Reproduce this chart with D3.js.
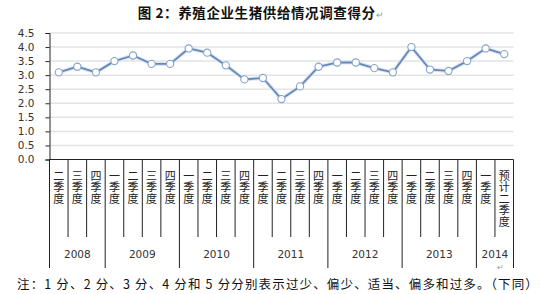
<!DOCTYPE html>
<html><head><meta charset="utf-8">
<script src="https://cdn.jsdelivr.net/npm/d3@7"></script>
<style>body{margin:0;background:#fff}svg{display:block}</style>
</head><body>
<svg id="c" width="541" height="294"></svg>
<script>
const years = ["2008","2009","2010","2011","2012","2013","2014"];
const quarters = [
 "二季度","三季度","四季度",
 "一季度","二季度","三季度","四季度",
 "一季度","二季度","三季度","四季度",
 "一季度","二季度","三季度","四季度",
 "一季度","二季度","三季度","四季度",
 "一季度","二季度","三季度","四季度",
 "一季度","预计二季度"];
const yearOf = [
 "2008","2008","2008",
 "2009","2009","2009","2009",
 "2010","2010","2010","2010",
 "2011","2011","2011","2011",
 "2012","2012","2012","2012",
 "2013","2013","2013","2013",
 "2014","2014"];
const scores = [3.1,3.3,3.1, 3.5,3.7,3.4,3.4, 3.95,3.8,3.35,2.85, 2.9,2.15,2.6,3.3, 3.45,3.45,3.25,3.1, 4.0,3.2,3.15,3.5, 3.95,3.75];
const yTicks = [0,0.5,1,1.5,2,2.5,3,3.5,4,4.5];

const svg = d3.select("#c");
const pL = 49.5, pR = 513.5, pT = 33, pB = 159.5;
const idx = d3.range(quarters.length);
const x = d3.scaleBand().domain(idx).range([pL, pR]);
const y = d3.scaleLinear().domain([0,4.5]).range([pB, pT]);

// title
const t = svg.append("text").attr("x", 261).attr("y", 18).attr("text-anchor","middle")
 .attr("font-family","'Noto Sans CJK SC'").attr("font-weight","bold").attr("font-size",13.5)
 .attr("letter-spacing",0.6).attr("fill","#111");
t.append("tspan").text("图 2：养殖企业生猪供给情况调查得分");
t.append("tspan").attr("font-size",9).attr("font-weight","normal").attr("fill","#999").text("↵");

// gridlines
svg.append("g").selectAll("line").data(yTicks.filter(d=>d>0)).join("line")
 .attr("x1", pL).attr("x2", pR).attr("y1", d=>y(d)).attr("y2", d=>y(d))
 .attr("stroke","#e3e3e3").attr("stroke-width",1.5);

// y axis
const ya = svg.append("g").attr("transform",`translate(${pL},0)`)
 .call(d3.axisLeft(y).tickValues(yTicks).tickFormat(d3.format(".1f")).tickSize(4).tickPadding(11));
ya.select(".domain").attr("stroke","#222");
ya.selectAll(".tick line").attr("stroke","#222");
ya.selectAll("text").attr("font-family","'DejaVu Sans'").attr("font-size",10.5).attr("fill","#333");

// x axis line
svg.append("line").attr("x1",pL).attr("x2",pR).attr("y1",pB).attr("y2",pB).attr("stroke","#222");

// separators
const yearStart = idx.filter(i => i===0 || yearOf[i]!==yearOf[i-1]);
idx.forEach(i=>{
  const isYear = yearStart.includes(i);
  svg.append("line").attr("x1", x(i)).attr("x2", x(i)).attr("y1", pB).attr("y2", isYear?268:237)
   .attr("stroke","#222").attr("stroke-width",1);
});
svg.append("line").attr("x1", pR).attr("x2", pR).attr("y1", pB).attr("y2", 268).attr("stroke","#222");

// quarter labels (vertical writing)
svg.append("g").selectAll("text").data(idx).join("text")
 .attr("x", i=>x(i)+x.bandwidth()/2).attr("y", 170)
 .style("writing-mode","vertical-rl").style("text-orientation","upright")
 .attr("letter-spacing",0.6)
 .attr("font-family","'Noto Sans CJK SC'").attr("font-size",11).attr("fill","#222")
 .text(i=>quarters[i]);

// year labels
years.forEach(yr=>{
  const ids = idx.filter(i=>yearOf[i]===yr);
  const cx = (x(ids[0]) + x(ids[ids.length-1]) + x.bandwidth())/2;
  svg.append("text").attr("x", cx).attr("y", 258).attr("text-anchor","middle")
   .attr("font-family","'DejaVu Sans'").attr("font-size",10.5).attr("fill","#333").text(yr);
});

// line
const line = d3.line().x((d,i)=>x(i)+x.bandwidth()/2).y(d=>y(d));
svg.append("path").datum(scores).attr("d",line).attr("fill","none").attr("stroke","#dce7f4").attr("stroke-width",4).attr("stroke-linejoin","round");
svg.append("path").datum(scores).attr("d",line).attr("fill","none").attr("stroke","#6787b8").attr("stroke-width",1.8).attr("stroke-linejoin","round");
svg.append("g").selectAll("circle").data(scores).join("circle")
 .attr("cx",(d,i)=>x(i)+x.bandwidth()/2).attr("cy",d=>y(d)).attr("r",3.6)
 .attr("fill","#fff").attr("stroke","#86a3cc").attr("stroke-width",1.1);

// paragraph mark
svg.append("text").attr("x",497).attr("y",270).attr("font-size",8).attr("fill","#999").text("↵");

// note
svg.append("text").attr("x",17).attr("y",289).attr("font-family","'Noto Sans CJK SC'").attr("font-size",12.5)
 .attr("letter-spacing",1.15).attr("fill","#111")
 .text("注：1 分、2 分、3 分、4 分和 5 分分别表示过少、偏少、适当、偏多和过多。（下同）");
</script>
</body></html>
